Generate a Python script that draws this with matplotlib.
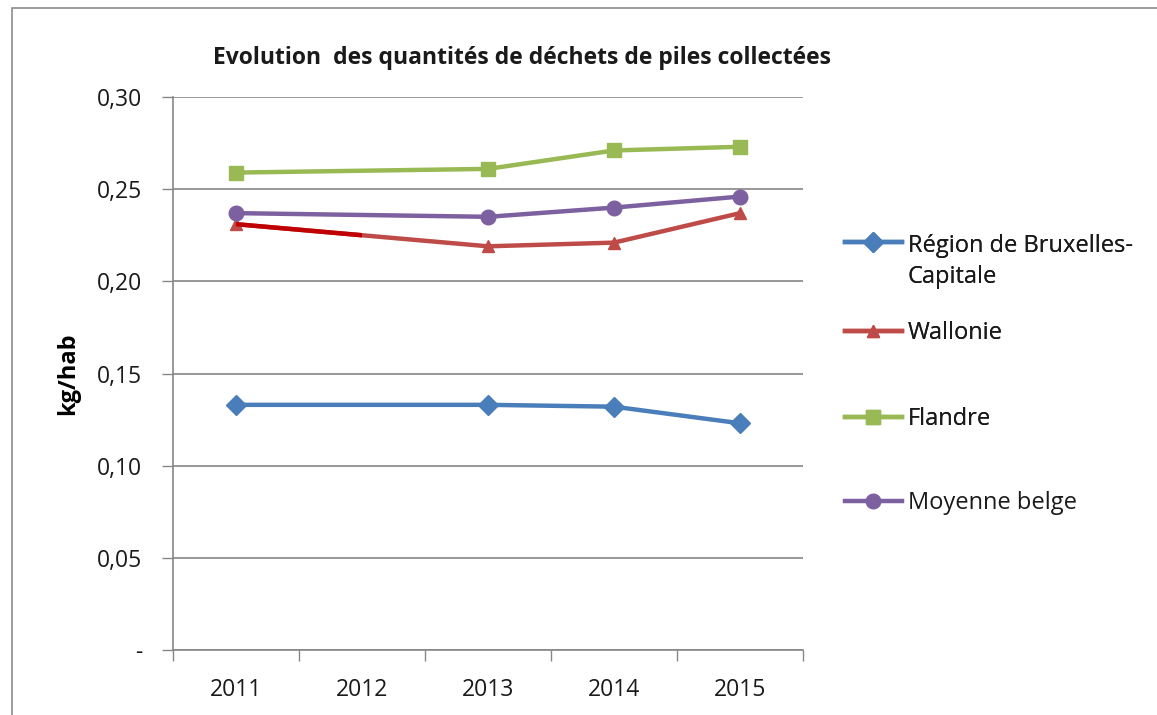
import matplotlib
matplotlib.use("Agg")
import matplotlib.pyplot as plt
import matplotlib.transforms as mtransforms
from matplotlib.patches import Rectangle
from matplotlib.ticker import FixedLocator, FuncFormatter
from matplotlib.offsetbox import HPacker

years = ["2011", "2012", "2013", "2014", "2015"]
bruxelles = [0.133, None, 0.133, 0.132, 0.123]
wallonie = [0.231, None, 0.219, 0.221, 0.237]
flandre = [0.259, None, 0.261, 0.271, 0.273]
moyenne = [0.237, None, 0.235, 0.240, 0.246]
series_names = ["Région de Bruxelles-\nCapitale", "Wallonie", "Flandre", "Moyenne belge"]
yticks = [0, 0.05, 0.10, 0.15, 0.20, 0.25, 0.30]

plt.rcParams['font.family'] = ['Open Sans', 'DejaVu Sans']

W, H = 1157, 715
fig = plt.figure(figsize=(W / 100, H / 100), dpi=100)
fig.patches.append(Rectangle((12 / W, -0.1), 1.2, 1 - 8 / H + 0.1, transform=fig.transFigure,
                             fill=False, edgecolor="#8c8c8c", linewidth=1.2))

ax = fig.add_axes([173 / W, 1 - 650 / H, 630 / W, 553 / H])
x = list(range(len(years)))

def pts(vals):
    xs = [i for i, v in zip(x, vals) if v is not None]
    ys = [v for v in vals if v is not None]
    return xs, ys

styles = [
    (bruxelles, "#4A7EBB", "D", 10),
    (wallonie, "#BE4B48", "^", 8),
    (flandre, "#98B954", "s", 10),
    (moyenne, "#7D60A0", "o", 10.5),
]
handles = []
for (vals, col, mk, ms), name in zip(styles, series_names):
    xs, ys = pts(vals)
    h, = ax.plot(xs, ys, color=col, marker=mk, markersize=ms, linewidth=3.2, label=name,
                 markeredgecolor=col, zorder=3)
    handles.append(h)

# darker first half of the Wallonie 2011-2013 segment
xs, ys = pts(wallonie)
dark, = ax.plot(xs[:2], ys[:2], color="#C00000", linewidth=3.2, zorder=3.5, solid_capstyle="butt")
clip_trans = mtransforms.blended_transform_factory(ax.transData, ax.transAxes)
dark.set_clip_path(Rectangle((-0.5, 0), 1.5, 1, transform=clip_trans))

ax.set_xlim(-0.5, len(years) - 0.5)
ax.set_ylim(0, 0.30)
ax.set_xticks(x)
ax.set_xticklabels(years)
ax.xaxis.set_minor_locator(FixedLocator([i - 0.5 for i in range(len(years) + 1)]))
ax.tick_params(axis="x", which="major", length=0, pad=20, labelsize=16.5, labelcolor="#1a1a1a")
ax.tick_params(axis="x", which="minor", length=8, color="#868686", width=1)
ax.set_yticks(yticks)
ax.yaxis.set_major_formatter(FuncFormatter(lambda v, p: "-" if abs(v) < 1e-9 else f"{v:.2f}".replace(".", ",")))
ax.tick_params(axis="y", length=8, color="#868686", width=1, pad=14, labelsize=16.5, labelcolor="#1a1a1a")
ax.grid(axis="y", color="#868686", linewidth=1.2)
ax.set_axisbelow(True)
for s in ["top", "right"]:
    ax.spines[s].set_visible(False)
for s in ["left", "bottom"]:
    ax.spines[s].set_color("#868686")
    ax.spines[s].set_linewidth(1.2)

ax.set_ylabel("kg/hab", fontsize=17, fontweight="bold", labelpad=12)
fig.text(522 / W, 1 - 58 / H, "Evolution  des quantités de déchets de piles collectées",
         ha="center", va="center", fontsize=16.5, fontweight="bold", color="#1a1a1a")

leg_y = [250, 333, 419, 503]
for i, (h, yy) in enumerate(zip(handles, leg_y)):
    multi = "\n" in h.get_label()
    leg = fig.legend(handles=[h], loc="upper left" if multi else "center left",
                     bbox_to_anchor=(845 / W, 1 - (yy - 16) / H if multi else 1 - yy / H),
                     frameon=False, fontsize=17, handlelength=2.4, handletextpad=0.25,
                     borderaxespad=0, borderpad=0)
    for t in leg.get_texts():
        t.set_linespacing(1.4)
        t.set_color("#1a1a1a")
    if multi:
        for col in leg._legend_handle_box.get_children():
            for row in col.get_children():
                if isinstance(row, HPacker):
                    row.align = "top"
    if i < len(handles) - 1:
        fig.add_artist(leg)

fig.savefig("out.png", dpi=100)
